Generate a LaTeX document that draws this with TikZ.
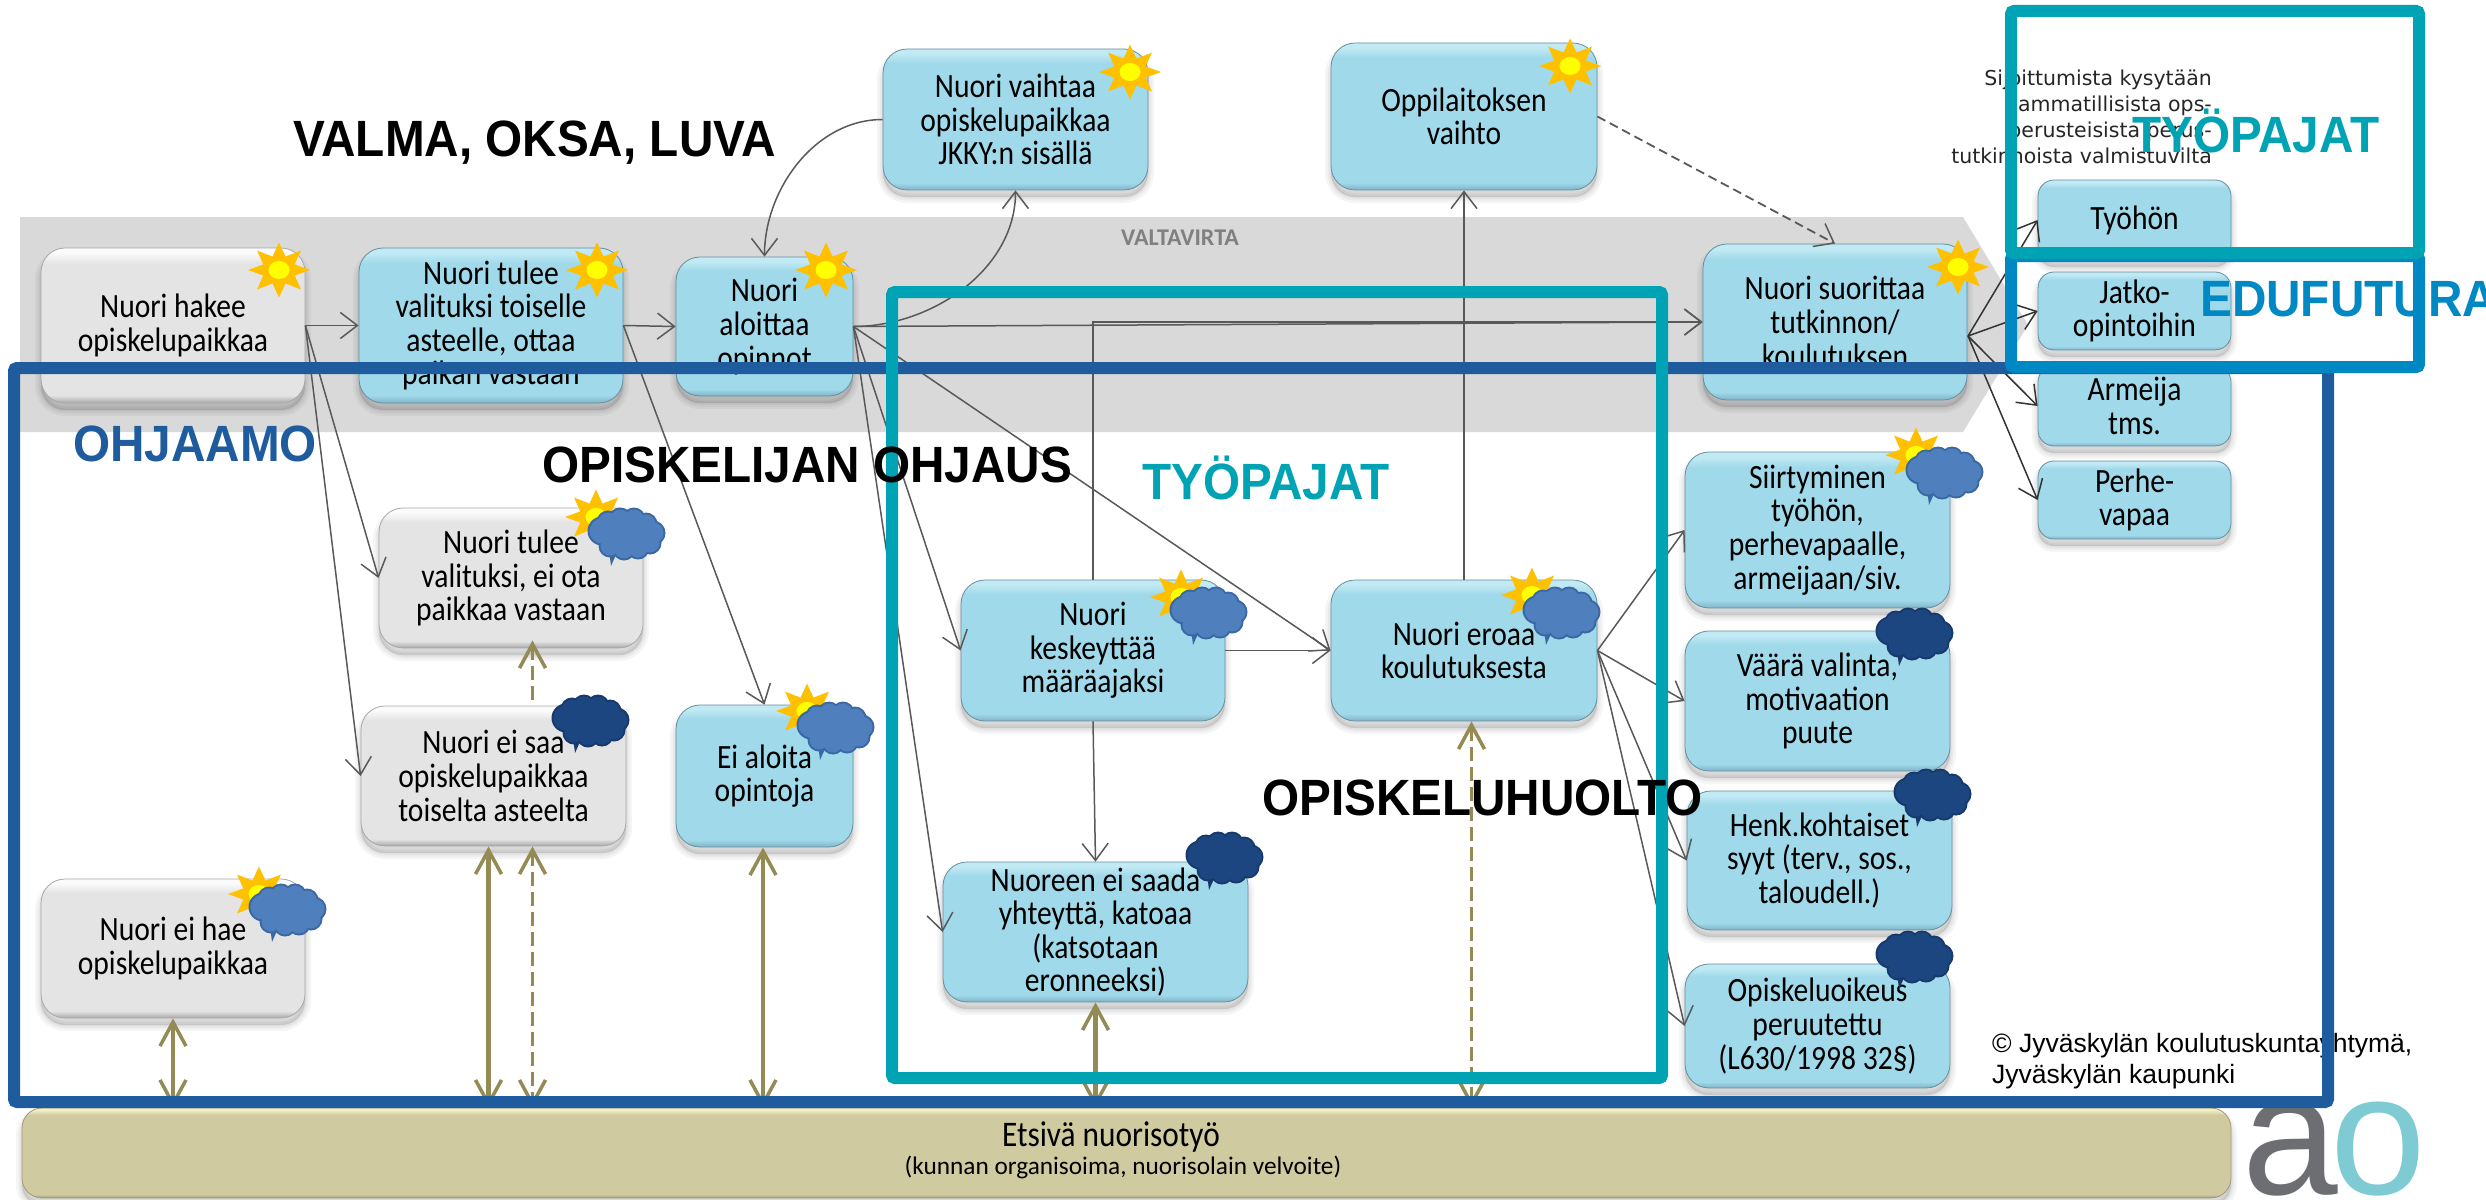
\documentclass[tikz,border=0pt]{standalone}
\usepackage{fontspec}
\setmainfont[FakeStretch=0.87]{Carlito}
\newfontfamily\carl{Carlito}
\newfontfamily\arialf{Liberation Sans}
\newfontfamily\arialn[FakeStretch=0.935]{Liberation Sans}
\newfontfamily\djvf{DejaVu Sans}
\usetikzlibrary{arrows.meta,calc}
\definecolor{bandgray}{HTML}{D9D9D9}
\definecolor{lineg}{HTML}{595959}
\definecolor{oliv}{HTML}{948A54}
\definecolor{frblue}{HTML}{1F5C9E}
\definecolor{frteal}{HTML}{00A3B4}
\definecolor{frsky}{HTML}{0088C4}
\definecolor{sunO}{HTML}{FFC000}
\definecolor{sunY}{HTML}{FFFF00}
\definecolor{cloudL}{HTML}{4F7FBC}
\definecolor{cloudLe}{HTML}{3A68A4}
\definecolor{cloudD}{HTML}{1C4680}
\definecolor{cloudDe}{HTML}{17396B}
\definecolor{bb}{HTML}{7FB3C6}\definecolor{bm}{HTML}{A0D9EA}\definecolor{bt}{HTML}{C2EAF4}
\definecolor{gb}{HTML}{A8A8A8}\definecolor{gm}{HTML}{E4E4E4}\definecolor{gt}{HTML}{FBFBFB}
\definecolor{ob}{HTML}{9E9A7A}\definecolor{om}{HTML}{D0CAA0}\definecolor{ot}{HTML}{F4EFC4}
\definecolor{logoA}{HTML}{6D6E71}\definecolor{logoO}{HTML}{7FCBD3}
\pgfdeclareverticalshading{bluesh}{100bp}{color(0bp)=(bb);color(25bp)=(bb);color(27.5bp)=(bm);color(70bp)=(bm);color(73.5bp)=(bt);color(75bp)=(bt);color(100bp)=(bt)}
\pgfdeclareverticalshading{graysh}{100bp}{color(0bp)=(gb);color(25bp)=(gb);color(27.5bp)=(gm);color(70bp)=(gm);color(73.5bp)=(gt);color(75bp)=(gt);color(100bp)=(gt)}
\pgfdeclareverticalshading{olivesh}{100bp}{color(0bp)=(ob);color(25bp)=(ob);color(27bp)=(om);color(71bp)=(om);color(74bp)=(ot);color(75bp)=(ot);color(100bp)=(ot)}
\newcommand{\cloudbody}[2]{%
  \fill[#2] (-18,8) -- (-6,12) -- (-15,32) -- cycle;
  \foreach \a/\b/\r in {-24/-3/13,-18/-12/10,-6/-15/10,8/-15/10,20/-10/10,27/-1/11,24/9/10,12/14/10,-2/15/10,-16/12/10}
    {\fill[#2] (\a,\b) circle (\r+1.5);}
  \foreach \a/\b/\r in {-24/-3/13,-18/-12/10,-6/-15/10,8/-15/10,20/-10/10,27/-1/11,24/9/10,12/14/10,-2/15/10,-16/12/10}
    {\fill[#1] (\a,\b) circle (\r-0.5);}
  \fill[#1] (-22,-14) rectangle (24,14);
}
\tikzset{
  softsh/.style={preaction={fill=black,draw=black,opacity=.04,line width=#1,transform canvas={yshift=-7pt}}},
  basebox/.style={rectangle,rounded corners=24pt,inner sep=0pt,align=center,text=black,
    font=\fontsize{34}{33.6}\selectfont,draw=bb!80!black,line width=.8pt,
    softsh=12pt,softsh=7pt,softsh=3pt,shade},
  bluebox/.style={basebox,shading=bluesh,minimum width=#1},
  graybox/.style={basebox,shading=graysh,minimum width=#1,draw=gb},
  smallbox/.style={basebox,shading=bluesh,minimum width=193pt,rounded corners=16pt},
  conn/.style={draw=lineg,line width=1.5pt,-{Straight Barb[length=17pt,width=26pt,line width=1.5pt]}},
  connk/.style={conn,draw=black!80},
  dashc/.style={conn,line width=1.8pt,dash pattern=on 9pt off 5pt},
  olarrow/.style={draw=oliv,line width=4.5pt,{Straight Barb[length=24pt,width=26pt,line width=3.5pt]}-{Straight Barb[length=24pt,width=26pt,line width=3.5pt]}},
  oldash/.style={draw=oliv,line width=3.5pt,dash pattern=on 14pt off 6pt,{Straight Barb[length=24pt,width=26pt,line width=3.5pt,sep=0pt]}-{Straight Barb[length=24pt,width=26pt,line width=3.5pt]}},
  frame/.style={line width=12pt,rounded corners=3pt},
  biglabel/.style={font=\arialn\bfseries\fontsize{51}{51}\selectfont,inner sep=0pt},
  sun/.pic={
    \fill[sunO] plot[samples at={0,22.5,...,337.5}] ({(24+7*cos(8*\x))*cos(\x)},{(21+6.5*cos(8*\x))*sin(\x)}) -- cycle;
    \fill[sunY] (0,0) ellipse (10.5 and 9);
  },
  lcloud/.pic={\cloudbody{cloudL}{cloudLe}},
  dcloud/.pic={\cloudbody{cloudD}{cloudDe}},
}
\begin{document}
\begin{tikzpicture}[x=1pt,y=-1pt]
\useasboundingbox (0,0) rectangle (2486,1199);
\fill[white] (0,0) rectangle (2486,1199);
% valtavirta band
\fill[bandgray] (20,217) -- (1963,217) -- (2028,325) -- (1963,432) -- (20,432) -- cycle;
\node[font=\carl\bfseries\fontsize{24}{24}\selectfont,text=black!50,inner sep=0pt] (valta) at (1180,238) {VALTAVIRTA};
% logo
\node[anchor=base west,inner sep=0pt,font=\arialf\fontsize{172}{172}\selectfont,text=logoA] (logoa) at (2242,1194) {a};
\node[anchor=base west,inner sep=0pt,font=\arialf\fontsize{172}{172}\selectfont,text=logoO] (logoo) at (2330,1194) {o};
% boxes
\node[graybox=264pt,minimum height=155pt] (hakee) at (173,325.5) {Nuori hakee\\opiskelupaikkaa};
\node[bluebox=264pt,minimum height=155pt] (tulee) at (491,325.5) {Nuori tulee\\valituksi toiselle\\asteelle, ottaa\\paikan vastaan};
\node[bluebox=177pt,minimum height=139pt] (aloittaa) at (764.5,326.5) {Nuori\\aloittaa\\opinnot};
\node[bluebox=265pt,minimum height=141pt] (vaihtaa) at (1015.5,119.5) {Nuori vaihtaa\\opiskelupaikkaa\\JKKY:n sisällä};
\node[bluebox=266pt,minimum height=147pt] (oppi) at (1464,116.5) {Oppilaitoksen\\vaihto};
\node[bluebox=264pt,minimum height=156pt] (suor) at (1835,322) {Nuori suorittaa\\tutkinnon/\\koulutuksen};
\node[smallbox,minimum height=80pt] (tyohon) at (2134.5,220) {Työhön};
\node[smallbox,minimum height=78pt] (jatko) at (2134.5,311) {Jatko-\\opintoihin};
\node[smallbox,minimum height=80pt] (armeija) at (2134.5,406) {Armeija\\tms.};
\node[smallbox,minimum height=78pt] (perhe) at (2134.5,500) {Perhe-\\vapaa};
\node[graybox=264pt,minimum height=140pt] (eiota) at (511,578) {Nuori tulee\\valituksi, ei ota\\paikkaa vastaan};
\node[graybox=265pt,minimum height=140pt] (eisaa) at (493.5,776) {Nuori ei saa\\opiskelupaikkaa\\toiselta asteelta};
\node[bluebox=177pt,minimum height=142pt] (eialoita) at (764.5,776) {Ei aloita\\opintoja};
\node[graybox=264pt,minimum height=139pt] (eihae) at (173,948.5) {Nuori ei hae\\opiskelupaikkaa};
\node[bluebox=264pt,minimum height=141pt] (kesk) at (1093,650.5) {Nuori\\keskeyttää\\määräajaksi};
\node[bluebox=305pt,minimum height=140pt] (nuoreen) at (1095.5,932) {Nuoreen ei saada\\yhteyttä, katoaa\\(katsotaan\\eronneeksi)};
\node[bluebox=266pt,minimum height=141pt] (eroaa) at (1464,650.5) {Nuori eroaa\\koulutuksesta};
\node[bluebox=265pt,minimum height=156pt] (siirt) at (1817.5,530) {Siirtyminen\\työhön,\\perhevapaalle,\\armeijaan/siv.};
\node[bluebox=265pt,minimum height=140pt] (vaara) at (1817.5,701) {Väärä valinta,\\motivaation\\puute};
\node[bluebox=265pt,minimum height=139pt] (henk) at (1819.5,860.5) {Henk.kohtaiset\\syyt (terv., sos.,\\taloudell.)};
\node[bluebox=265pt,minimum height=124pt] (oikeus) at (1817.5,1026) {Opiskeluoikeus\\peruutettu\\(L630/1998 32§)};
\node[basebox,shading=olivesh,draw=ob,minimum width=2209pt,minimum height=90pt,rounded corners=20pt] (etsiva) at (1126.5,1153) {};
\node[inner sep=0pt,font=\fontsize{36}{36}\selectfont] (etsT) at (1111,1137) {Etsivä nuorisotyö};
\node[inner sep=0pt,font=\carl\fontsize{25.3}{26}\selectfont] (etsS) at (1123,1167) {(kunnan organisoima, nuorisolain velvoite)};
% connectors
\draw[conn] (hakee.east) -- (tulee.west);
\draw[conn] (tulee.east) -- (aloittaa.west);
\draw[conn] (hakee.east) -- (eiota.west);
\draw[conn] (hakee.east) -- (eisaa.west);
\draw[conn] (tulee.east) -- (eialoita.north);
\draw[conn] (aloittaa.east) to[out=0,in=-90,looseness=.95] (vaihtaa.south);
\draw[conn] (vaihtaa.west) to[out=180,in=90,looseness=.95] (aloittaa.north);
\draw[conn] (aloittaa.east) -- (suor.west);
\draw[conn] (kesk.north) |- (suor.west);
\draw[conn] (aloittaa.east) -- (kesk.west);
\draw[conn] (aloittaa.east) -- (nuoreen.west);
\draw[conn] (aloittaa.east) -- (eroaa.west);
\draw[conn] (kesk.east) -- (eroaa.west);
\draw[conn] (kesk.south) -- (nuoreen.north);
\draw[conn] (eroaa.north) -- (oppi.south);
\draw[dashc] (oppi.east) -- (suor.north);
\coordinate (sx) at (1968,336);
\draw[connk] (sx) -- (tyohon.west);
\draw[connk] (sx) -- (jatko.west);
\draw[connk] (sx) -- (armeija.west);
\draw[connk] (sx) -- (perhe.west);
\draw[conn] (eroaa.east) -- (siirt.west);
\draw[conn] (eroaa.east) -- (vaara.west);
\draw[conn] (eroaa.east) -- (henk.west);
\draw[conn] (eroaa.east) -- (oikeus.west);
% olive arrows
\draw[olarrow] (eihae.south) -- (eihae.south |- etsiva.north);
\draw[olarrow] ([xshift=-5pt]eisaa.south) -- ([xshift=-5pt]eisaa.south |- etsiva.north);
\draw[oldash] ([xshift=39pt]eisaa.south) -- ([xshift=39pt]eisaa.south |- etsiva.north);
\draw[oldash,{Straight Barb[length=24pt,width=26pt,line width=3.5pt]}-] ([xshift=21.5pt,yshift=8pt]eiota.south) -- ([xshift=39pt]eisaa.north);
\draw[olarrow] ([xshift=-1.5pt]eialoita.south) -- ([xshift=-1.5pt]eialoita.south |- etsiva.north);
\draw[olarrow] (nuoreen.south) -- (nuoreen.south |- etsiva.north);
\draw[oldash] ([xshift=7.5pt]eroaa.south) -- ([xshift=7.5pt]eroaa.south |- etsiva.north);
% suns and clouds
\foreach \p in {(279,270),(597,270),(826,270),(1130,72),(1570,66),(1958,267),(596,517),(807,711),(259,894),(1181,597),(1532,595),(1916,455)}
  {\pic at \p {sun};}
\foreach \p in {(626,534),(835,728),(287,910),(1208,613),(1561,613),(1944,473)}
  {\pic at \p {lcloud};}
\foreach \p in {(590,721),(1224,858),(1914,634),(1932,795),(1914,957)}
  {\pic at \p {dcloud};}
% small texts
\node[inner sep=0pt,align=right,anchor=east,font=\djvf\fontsize{20.5}{26.2}\selectfont,text=black!85] (sij) at (2212,117) {Sijoittumista kysytään\\ammatillisista ops-\\perusteisista perus-\\tutkinnoista valmistuvilta};
\node[inner sep=0pt,align=left,anchor=west,font=\arialf\fontsize{26.5}{31}\selectfont] (copy) at (1992,1061) {© Jyväskylän koulutuskuntayhtymä,\\Jyväskylän kaupunki};
% frames
\draw[frblue,frame] (14,368) rectangle (2328,1102);
\draw[frsky,frame] (2011,256) rectangle (2419,367);
\draw[frteal,frame] (892,292) rectangle (1662,1078);
\draw[frteal,frame] (2011,11) rectangle (2419,253);
% labels
\node[biglabel,anchor=base west] (valma) at (293,156) {VALMA, OKSA, LUVA};
\node[biglabel,anchor=base west,text=frblue] (ohj) at (73,461) {OHJAAMO};
\node[biglabel,anchor=base west] (oppilas) at (542,482) {OPISKELIJAN OHJAUS};
\node[biglabel,anchor=base west,text=frteal] (typ1) at (1142,499) {TYÖPAJAT};
\node[biglabel,anchor=base west,text=frteal] (typ2) at (2132,152) {TYÖPAJAT};
\node[biglabel,anchor=base west,text=frsky] (edu) at (2200,316) {EDUFUTURA};
\node[biglabel,anchor=base west] (huolto) at (1262,815) {OPISKELUHUOLTO};
\end{tikzpicture}
\end{document}
